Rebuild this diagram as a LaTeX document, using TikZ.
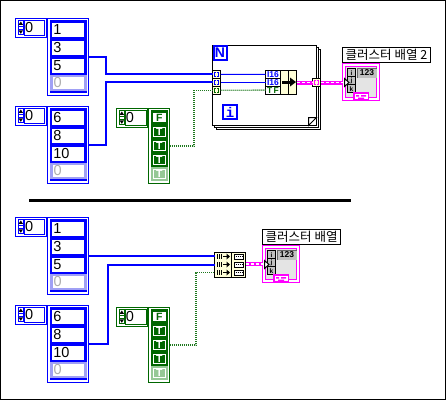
\documentclass[tikz,border=0pt]{standalone}
\usepackage{fontspec}
\setmainfont{Liberation Sans}
\setmonofont{Liberation Mono}
\newfontfamily\krfont{Noto Sans CJK KR}
\definecolor{lvblue}{RGB}{0,0,255}
\definecolor{lvlight}{RGB}{160,160,245}
\definecolor{lvgreen}{RGB}{0,102,0}
\definecolor{lvdot}{RGB}{30,120,30}
\definecolor{lvlgreen}{RGB}{150,200,150}
\definecolor{lvpink}{RGB}{255,0,255}
\definecolor{lvtan}{RGB}{255,255,215}
\definecolor{lvgrey}{RGB}{192,192,192}
\definecolor{lvpale}{RGB}{228,228,228}
\tikzset{
  bxs/.style={inner sep=0pt,outer sep=0pt,line width=1pt},
  bluewire/.style={draw=lvblue,line width=2pt},
  thinwire/.style={draw=lvblue,line width=1pt},
  boolwire/.style={draw=lvdot,line width=1.3pt,dash pattern=on 1pt off 1pt},
  digit/.style={font=\fontsize{14.5}{14.5}\selectfont},
  krlabel/.style={draw=black,fill=white,font=\krfont\fontsize{12.5}{13}\selectfont},
  tflabel/.style={font=\bfseries\fontsize{10.5}{10.5}\selectfont},
  smalllabel/.style={font=\bfseries\fontsize{8.5}{8.5}\selectfont},
  ijklabel/.style={font=\bfseries\fontsize{6.5}{6.5}\selectfont},
}
% name, style, x1, y1, x2, y2, text
\newcommand{\bx}[7]{\node[bxs,#2,minimum width={(#5-#3)*1pt},minimum height={(#6-#4)*1pt}] (#1) at ({(#3+#5)/2},{(#4+#6)/2}) {#7};}
% spinner: colour, x, y
\newcommand{\spin}[3]{%
  \begin{scope}[shift={(#2,#3)}]
  \fill[#1] (0,0) rectangle (6.6,15.3);
  \fill[white] (1,1) rectangle (5.6,5.6);
  \fill[white] (1,9.6) rectangle (5.6,14.3);
  \fill[white] (1,6.6) rectangle (5.6,7.2);
  \fill[white] (1,8.1) rectangle (5.6,8.7);
  \fill[black] (3.3,1.5) -- (5.6,4.9) -- (1,4.9) -- cycle;
  \fill[black] (3.3,13.8) -- (5.6,10.3) -- (1,10.3) -- cycle;
  \end{scope}}
% blue numeric array: prefix, dy, v1, v2, v3
\newcommand{\numarr}[5]{%
  \begin{scope}[yshift={-(#2)*1pt}]
  \bx{#1i}{draw=lvblue,fill=white}{15.5}{18.5}{46.5}{37}{}
  \bx{#1d}{draw=lvblue,fill=white,digit,text=black}{24.8}{20.5}{44.7}{35.3}{\hspace*{-11pt}0}
  \spin{lvblue}{17.5}{20}
  \bx{#1}{draw=lvblue,fill=white}{47.5}{18.5}{88.5}{95.5}{}
  \bx{#1f}{fill=lvblue}{50}{20}{86.7}{93.3}{}
  \bx{#1a}{fill=white,digit,text=black,text width=30pt}{52.3}{22.7}{84.3}{36.7}{#3}
  \bx{#1b}{fill=white,digit,text=black,text width=30pt}{52.3}{40.7}{84.3}{54.7}{#4}
  \bx{#1c}{fill=white,digit,text=black,text width=30pt}{52.3}{58.7}{84.3}{72.7}{#5}
  \bx{#1l}{fill=lvlight}{50}{74.8}{86.7}{90.8}{}
  \bx{#1e}{fill=white,digit,text=lvgrey!90!black,text width=30pt}{52.7}{77}{84.3}{88.5}{0}
  \end{scope}}
% boolean button: name, y1, y2
\newcommand{\boolbtn}[3]{\bx{#1}{draw=white,fill=lvgreen,text=white,tflabel}{153.5}{#2}{165}{#3}{T}}
% green boolean array: prefix, dy
\newcommand{\boolarr}[2]{%
  \begin{scope}[yshift={-(#2)*1pt}]
  \bx{#1i}{draw=lvgreen,fill=white}{116.5}{108.5}{147.2}{127}{}
  \bx{#1d}{draw=lvgreen,fill=white,digit,text=black}{125.8}{110.5}{146.2}{125.3}{\hspace*{-12pt}0}
  \spin{lvgreen}{118.5}{110}
  \bx{#1}{draw=lvgreen,fill=white}{148.5}{108.5}{169.5}{183.5}{}
  \bx{#1f}{fill=lvgreen}{150.7}{110.3}{167.7}{181}{}
  \bx{#1a}{fill=white,text=lvgreen,tflabel}{153}{112.7}{165.7}{122.3}{F}
  \boolbtn{#1b}{127.5}{136}
  \boolbtn{#1c}{141.5}{150}
  \boolbtn{#1e}{155.5}{164}
  \bx{#1l}{fill=lvlgreen}{150.7}{166.7}{167.7}{181}{}
  \bx{#1g}{draw=white,fill=lvlgreen,text=white,tflabel}{153.5}{169}{165}{178.7}{T}
  \end{scope}}
% bracket pair inside a tunnel: colour, node
\newcommand{\brk}[2]{%
  \draw[#1,line width=1pt] ([shift={(-0.8,-2.2)}]#2.center) -- ++(-1.2,0) -- ++(0,4.4) -- ++(1.2,0);
  \draw[#1,line width=1pt] ([shift={(0.8,-2.2)}]#2.center) -- ++(1.2,0) -- ++(0,4.4) -- ++(-1.2,0);}
% cluster indicator: prefix, dx, dy
\newcommand{\clust}[3]{%
  \begin{scope}[shift={(#2,#3)}]
  \bx{#1}{draw=lvpink,fill=white}{342.8}{63.8}{379.5}{100.3}{}
  \bx{#1p}{draw=lvpink,fill=lvpale}{345.5}{66.5}{376.5}{97.8}{}
  \bx{#1i}{draw=black,fill=lvgrey,ijklabel}{347.5}{68.8}{355.5}{76.8}{i}
  \bx{#1j}{draw=black,fill=lvgrey,ijklabel}{347.5}{76.8}{355.5}{84.8}{j}
  \bx{#1k}{draw=black,fill=lvgrey,ijklabel}{347.5}{84.8}{355.5}{92.5}{k}
  \bx{#1n}{fill=lvgrey,smalllabel}{357.5}{68.5}{376.5}{77.5}{123}
  \draw[black!60,line width=1pt] (357.5,77.5) |- (376.5,68.8);
  \fill[white,draw=black,line width=1pt] (344.5,78.5) -- (349,82.5) -- (344.5,86.5) -- cycle;
  \bx{#1q}{draw=lvpink,fill=white,line width=1.5pt}{354}{93}{368.5}{99.5}{}
  \fill[lvpink] (356,95) rectangle (359,96.5) (361,95) rectangle (366,96.5) (358,97.5) rectangle (364,100);
  \end{scope}}
% magenta cluster wire
\newcommand{\pinkwire}[2]{%
  \draw[lvpink,line width=4pt] (#1) -- (#2);
  \draw[white,line width=1.2pt,dash pattern=on 3pt off 2pt] (#1) -- (#2);}
\begin{document}
\begin{tikzpicture}[x=1pt,y=-1pt]
\useasboundingbox (0,0) rectangle (446,400);
\fill[white] (0,0) rectangle (446,400);
\draw[black,line width=1pt] (0.5,0.5) rectangle (445.5,399.5);
% separator
\coordinate (sepa) at (29,200);
\coordinate (sepb) at (351,200);
\draw[black,line width=3pt] (sepa) -- (sepb);

% --- upper diagram ---
\numarr{A}{0}{1}{3}{5}
\numarr{B}{88}{6}{8}{10}
\boolarr{C}{0}

% loop frame stack
\bx{L3}{draw=black,fill=white}{216.5}{49.5}{320.5}{129}{}
\bx{L2}{draw=black,fill=white}{214.5}{47.5}{318.5}{127.3}{}
\bx{L1}{draw=black,fill=white}{212.5}{45.5}{316.5}{125.5}{}
\fill[white,draw=black,line width=1pt] (308.5,125.5) -- (308.5,117.5) -- (316.5,117.5) -- cycle;
\bx{N}{draw=lvblue,line width=2pt,fill=white,text=lvblue,font=\bfseries\fontsize{14}{14}\selectfont}{213.5}{46}{226.5}{60}{N}
\bx{I}{draw=lvblue,line width=2pt,fill=white,text=lvblue,font=\ttfamily\bfseries\fontsize{14}{14}\selectfont}{223.3}{105.3}{236.7}{118.7}{i}

\bx{T1}{draw=black,fill=lvtan}{212.7}{70.7}{220.5}{78}{}
\bx{T2}{draw=black,fill=lvtan}{212.7}{78.5}{220.5}{86}{}
\bx{T3}{draw=black,fill=lvtan}{212.7}{86.5}{220.5}{94}{}
\brk{lvblue}{T1}\brk{lvblue}{T2}\brk{lvgreen}{T3}

\draw[bluewire] (A.east) -- ++(17.7,0) |- (T1.west);
\draw[bluewire] (B.east) -- ++(17.7,0) |- (T2.west);
\draw[boolwire] (C.east) -- ++(24.5,0) |- (T3.west);

% bundle by name
\bx{U}{draw=black,fill=lvtan}{265.5}{70.5}{296.5}{94}{}
\bx{Ua}{draw=black,fill=white,text=lvblue,smalllabel}{265.5}{70.5}{280.5}{78.3}{I16}
\bx{Ub}{draw=black,fill=white,text=lvblue,smalllabel}{265.5}{78.3}{280.5}{86.2}{I16}
\bx{Uc}{draw=black,fill=white,text=lvgreen,smalllabel}{265.5}{86.2}{280.5}{94}{T\,F}
\draw[black,line width=1pt] (288.5,70.5) -- (288.5,94);
\draw[black,line width=3pt] (282,82) -- (291,82);
\fill[black] (296,82) -- (290,77.5) -- (290,86.5) -- cycle;
\draw[thinwire] (T1.east) -- (Ua.west);
\draw[thinwire] (T2.east) -- (Ub.west);
\draw[boolwire] (T3.east) -- (Uc.west);

\bx{T4}{draw=black,fill=lvtan}{312.5}{78.5}{320.5}{86.5}{}
\brk{lvpink}{T4}
\pinkwire{U.east |- T4.west}{T4.west}

\bx{K1}{krlabel}{342.5}{47.5}{430.5}{62.3}{클러스터 배열 2}
\clust{P}{0}{0}
\pinkwire{T4.east}{P.west |- T4.east}

% --- lower diagram ---
\numarr{D}{199}{1}{3}{5}
\numarr{E}{287}{6}{8}{10}
\boolarr{F}{199}

\bx{V}{draw=black,fill=lvtan}{214.5}{252.5}{245.7}{277}{}
\draw[black,line width=1pt] (231.5,252.5) -- (231.5,277);
\coordinate (Va) at (214.5,256.5);
\coordinate (Vb) at (214.5,264.5);
\coordinate (Vc) at (214.5,272.5);
\foreach \yy in {256.5,264.5,272.5}{
  \draw[black,line width=1pt] (217.5,\yy-2.5) -- (217.5,\yy+2.5) (219.5,\yy-2.5) -- (219.5,\yy+2.5) (221.5,\yy-2.5) -- (221.5,\yy+2.5) (223,\yy) -- (228,\yy);
  \fill[black] (230,\yy) -- (226.5,\yy-3) -- (226.5,\yy+3) -- cycle;
  \draw[black,line width=1pt,fill=white] (234,\yy-2.5) rectangle (243,\yy+2.5);
  \draw[black,line width=1pt,dash pattern=on 1pt off 1pt] (235.5,\yy) -- (242,\yy);
}
\draw[bluewire] (D.east) -- (D.east -| Va);
\draw[bluewire] (E.east) -- ++(19.5,0) |- (Vb);
\draw[boolwire] (F.east) -- ++(26.5,0) |- (Vc);

\bx{K2}{krlabel}{262.5}{229.5}{340.7}{244.3}{클러스터 배열}
\clust{Q}{-80}{182}
\pinkwire{V.east |- Q.west}{Q.west}
\end{tikzpicture}
\end{document}
